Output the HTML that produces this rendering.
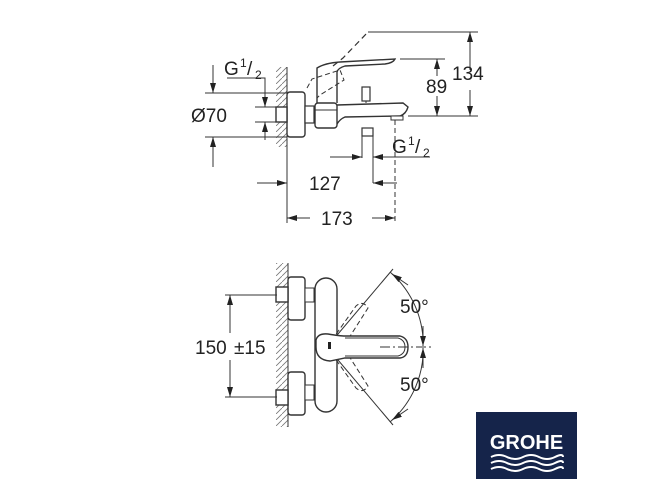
<!DOCTYPE html>
<html><head><meta charset="utf-8"><style>
html,body{margin:0;padding:0;background:#fff;}
svg{display:block;}
text{font-family:"Liberation Sans",sans-serif;fill:#222;}
</style></head><body>
<svg width="666" height="501" viewBox="0 0 666 501" xmlns="http://www.w3.org/2000/svg">
<defs>
<pattern id="h" width="6" height="6" patternUnits="userSpaceOnUse"><path d="M0 6 L6 0" stroke="#777" stroke-width="0.8"/></pattern>
<marker id="a" viewBox="0 0 10 6" refX="10" refY="3" markerWidth="10" markerHeight="6" orient="auto" markerUnits="userSpaceOnUse"><path d="M0 0 L10 3 L0 6Z" fill="#222"/></marker>
</defs>
<g stroke="#333" stroke-width="1" fill="none">
<!-- TOP VIEW -->
<rect x="276" y="67" width="11" height="80" fill="url(#h)" stroke="none"/>
<line x1="287" y1="67" x2="287" y2="223"/>
<rect x="287" y="92" width="18" height="45" rx="3" fill="#fff" stroke-width="1.4"/>
<rect x="276" y="107" width="11" height="15" fill="#fff" stroke-width="1.4"/>
<rect x="305" y="106" width="9" height="17" fill="#fff" stroke-width="1.2"/>
<path d="M317 103 L317 68 Q325 63 340 62 L395 59 Q393 63 385 64 L345 66 Q338 68 337 72 L337 103" stroke-width="1.4" fill="#fff"/>
<path d="M337 105 L403 103 L408 107 Q406 114 400 116 L345 117 Q340 119 337 124" stroke-width="1.4" fill="#fff"/>
<rect x="315" y="103" width="22" height="25" rx="3" fill="#fff" stroke-width="1.4"/>
<line x1="315" y1="110" x2="337" y2="110"/>
<rect x="362" y="87" width="8" height="14" fill="#fff" stroke-width="1.2"/>
<line x1="366" y1="101" x2="366" y2="103"/>
<rect x="391" y="116" width="12" height="4" fill="#fff"/>
<rect x="362" y="128" width="11" height="8" fill="#fff" stroke-width="1.2"/>
<line x1="362" y1="136" x2="362" y2="158"/><line x1="373" y1="136" x2="373" y2="183"/>
<path d="M333 66 L343 58 L368 32" stroke-dasharray="6 4" stroke-width="1.2"/>
<path d="M307 88 L312 79 L340 70 L344 80 L320 95 L317 98" stroke-dasharray="5 3"/>
<!-- 134 / 89 dims -->
<line x1="368" y1="32" x2="478" y2="32"/>
<line x1="400" y1="59" x2="445" y2="59"/>
<line x1="408" y1="116" x2="478" y2="116"/>
<line x1="470" y1="70" x2="470" y2="32" marker-end="url(#a)"/>
<line x1="470" y1="90" x2="470" y2="116" marker-end="url(#a)"/>
<line x1="437" y1="76" x2="437" y2="59" marker-end="url(#a)"/>
<line x1="437" y1="96" x2="437" y2="116" marker-end="url(#a)"/>
<!-- G1/2 left and O70 -->
<polyline points="227,78 265,78 265,107"/>
<line x1="265" y1="90" x2="265" y2="107" marker-end="url(#a)"/>
<line x1="265" y1="140" x2="265" y2="122" marker-end="url(#a)"/>
<line x1="255" y1="107" x2="276" y2="107"/><line x1="255" y1="122" x2="276" y2="122"/>
<line x1="205" y1="93" x2="287" y2="93"/><line x1="205" y1="137" x2="287" y2="137"/>
<line x1="213" y1="65" x2="213" y2="93" marker-end="url(#a)"/>
<line x1="213" y1="167" x2="213" y2="137" marker-end="url(#a)"/>
<!-- G1/2 right -->
<line x1="330" y1="157" x2="362" y2="157" marker-end="url(#a)"/>
<line x1="430" y1="157" x2="373" y2="157" marker-end="url(#a)"/>
<line x1="395" y1="120" x2="395" y2="222" stroke-dasharray="5 3"/>
<!-- 127 -->
<line x1="257" y1="183" x2="287" y2="183" marker-end="url(#a)"/>
<line x1="397" y1="183" x2="373" y2="183" marker-end="url(#a)"/>
<!-- 173 -->
<line x1="310" y1="218" x2="287" y2="218" marker-end="url(#a)"/>
<line x1="372" y1="218" x2="395" y2="218" marker-end="url(#a)"/>

<!-- BOTTOM VIEW -->
<rect x="276" y="263" width="12" height="164" fill="url(#h)" stroke="none"/>
<line x1="288" y1="263" x2="288" y2="427"/>
<rect x="288" y="277" width="17" height="43" rx="3" fill="#fff" stroke-width="1.4"/>
<rect x="288" y="372" width="17" height="43" rx="3" fill="#fff" stroke-width="1.4"/>
<rect x="276" y="287" width="12" height="15" fill="#fff" stroke-width="1.4"/>
<rect x="276" y="390" width="12" height="15" fill="#fff" stroke-width="1.4"/>
<rect x="305" y="288" width="9" height="14" fill="#fff"/>
<rect x="305" y="385" width="9" height="15" fill="#fff"/>
<rect x="315" y="278" width="22" height="134" rx="11" fill="#fff" stroke-width="1.4"/>
<path d="M327 347 L356 306 Q363 300 368 308 L340 352" stroke-dasharray="5 3"/>
<path d="M327 347 L356 388 Q363 394 368 386 L340 342" stroke-dasharray="5 3"/>
<line x1="327" y1="347" x2="393" y2="269"/>
<line x1="327" y1="347" x2="393" y2="425"/>
<path d="M316 340 Q318 333 328 334 Q340 336 345 336 L400 336 Q408 338 408 347 Q408 357 400 358 L345 358 Q340 359 330 361 Q316 360 316 347Z" fill="#fff" stroke-width="1.4"/>
<path d="M345 338 L398 338 Q405 340 405 347 Q405 354 398 356 L345 356"/>
<rect x="328" y="342" width="3" height="7" fill="#222" stroke="none"/>
<line x1="380" y1="347" x2="432" y2="347" stroke-dasharray="10 3 2 3"/>
<path d="M390 272 A96 96 0 0 1 423 338" />
<path d="M423 356 A96 96 0 0 1 390 422"/>
<line x1="408" y1="285" x2="392" y2="274" marker-end="url(#a)"/>
<line x1="423" y1="326" x2="423" y2="346" marker-end="url(#a)"/>
<line x1="423" y1="368" x2="423" y2="348" marker-end="url(#a)"/>
<line x1="408" y1="409" x2="392" y2="420" marker-end="url(#a)"/>
<!-- 150 -->
<line x1="225" y1="295" x2="277" y2="295"/><line x1="225" y1="397" x2="277" y2="397"/>
<line x1="230" y1="333" x2="230" y2="295" marker-end="url(#a)"/>
<line x1="230" y1="360" x2="230" y2="397" marker-end="url(#a)"/>
</g>
<g font-size="19">
<text x="224" y="75">G</text><text x="240" y="67" font-size="12">1</text><text x="247" y="75">/</text><text x="255" y="79" font-size="12">2</text>
<text x="191" y="122">Ø70</text>
<text x="392" y="153">G</text><text x="408" y="145" font-size="12">1</text><text x="415" y="153">/</text><text x="423" y="157" font-size="12">2</text>
<text x="309" y="190">127</text>
<text x="321" y="225">173</text>
<text x="426" y="93">89</text>
<text x="452" y="80">134</text>
<text x="195" y="354">150</text><text x="234" y="354">±15</text>
<text x="400" y="313">50°</text>
<text x="400" y="391">50°</text>
</g>
<rect x="476" y="412" width="101" height="67" fill="#15244a"/>
<text x="526.5" y="449" font-size="20" font-weight="bold" text-anchor="middle" style="fill:#fff">GROHE</text>
<g stroke="#fff" stroke-width="2" fill="none">
<path d="M491 457 q8 -4 16 0 t16 0 t16 0 t16 0 t8 0"/>
<path d="M491 463 q8 -4 16 0 t16 0 t16 0 t16 0 t8 0"/>
<path d="M491 469 q8 -4 16 0 t16 0 t16 0 t16 0 t8 0"/>
</g>
</svg>
</body></html>
